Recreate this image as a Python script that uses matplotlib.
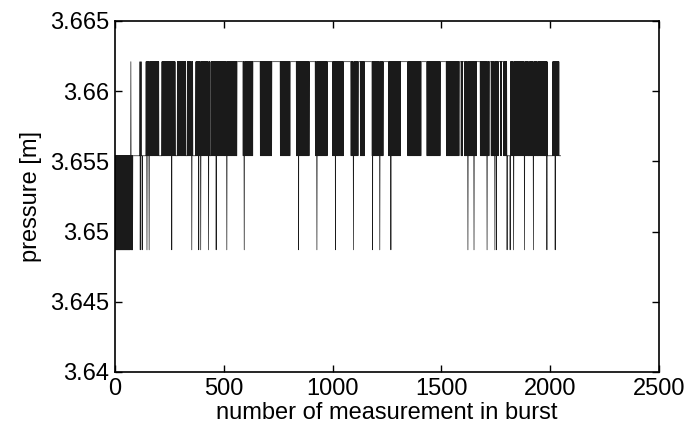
import numpy as np
import matplotlib.pyplot as plt

plt.rcParams['font.family'] = ['Liberation Sans', 'DejaVu Sans']

n_samples = 2048
low, mid, high = 3.6487, 3.6554, 3.6621

# sample range at the start where the reading flickers between low and mid
low_block = (0, 81)

# sample ranges where the reading flickers between mid and high
high_blocks = [
    (142, 202), (215, 276), (286, 326), (332, 357), (371, 437), (441, 559),
    (587, 633), (666, 720), (758, 804), (832, 892), (919, 976), (999, 1049),
    (1083, 1118), (1126, 1146), (1180, 1233), (1256, 1313), (1344, 1406),
    (1432, 1494), (1521, 1581), (1589, 1598), (1605, 1662), (1677, 1720),
    (1727, 1762), (1770, 1777), (1785, 1803), (1815, 1900), (1904, 1941),
    (1945, 1987), (2011, 2040),
]

# single readings that drop to the low level
dips = [115, 124, 146, 156, 260, 352, 384, 393, 429, 464, 513, 593, 843,
        927, 1012, 1095, 1183, 1216, 1267, 1621, 1649, 1709, 1745, 1752,
        1801, 1815, 1831, 1881, 1922, 1984, 2022]

# single readings up at the high level outside the blocks
spikes = [72, 114, 119]

# level the reading rests at between the blocks
rest_levels = [(0, 560, mid), (560, 1785, high), (1785, n_samples, mid)]

pressure = np.empty(n_samples)
for start, end, level in rest_levels:
    pressure[start:end] = level
s, e = low_block
pressure[s:e] = mid
pressure[s:e:2] = low
for s, e in high_blocks:
    pressure[s:e] = mid
    pressure[s:e:2] = high
pressure[spikes] = high
pressure[dips] = low

index = np.arange(1, n_samples + 1)

fig = plt.figure(figsize=(6.86, 4.23), dpi=100)
ax = fig.add_axes([0.1676, 0.1206, 0.7930, 0.8298])
ax.plot(index, pressure, color='#1a1a1a', lw=0.5)

ax.set_xlim(0, 2500)
ax.set_ylim(3.64, 3.665)
ax.set_xticks([0, 500, 1000, 1500, 2000, 2500])
ax.set_yticks([3.64, 3.645, 3.65, 3.655, 3.66, 3.665])
ax.set_yticklabels(['3.64', '3.645', '3.65', '3.655', '3.66', '3.665'])
ax.tick_params(direction='in', top=True, right=True, length=5, width=1,
               labelsize=17, pad=4)
for sp in ax.spines.values():
    sp.set_linewidth(1.2)

ax.set_xlabel('number of measurement in burst', fontsize=17, labelpad=2)
ax.set_ylabel('pressure [m]', fontsize=17, labelpad=6)

fig.savefig('out.png', dpi=100)
